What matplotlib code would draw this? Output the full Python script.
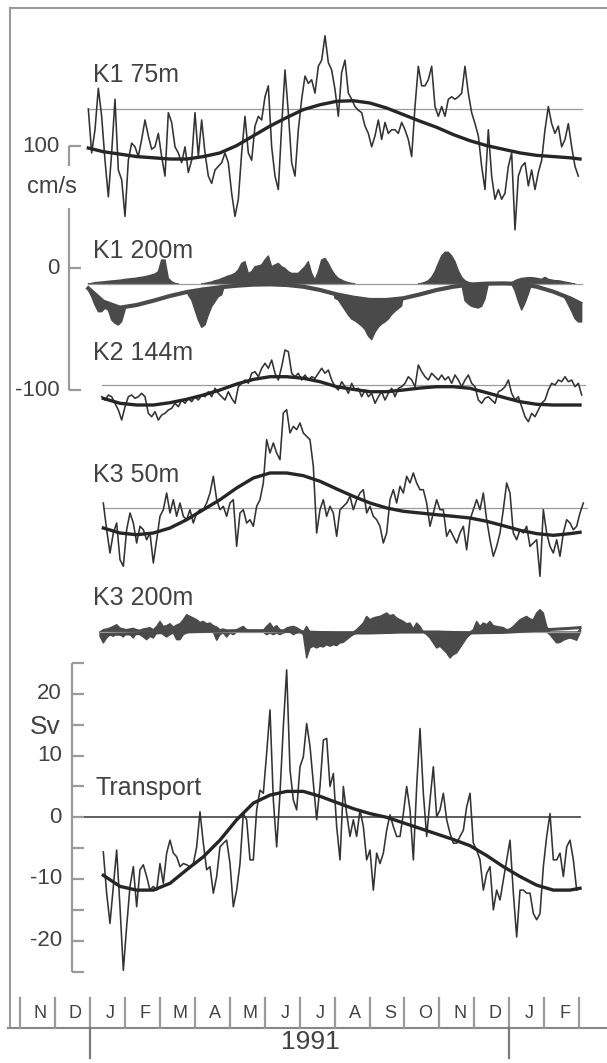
import numpy as np
import matplotlib.pyplot as plt

plt.rcParams['font.family'] = ['Liberation Sans', 'DejaVu Sans']

# ── DATA (time in months since 1 Nov 1990, currents in cm/s, transport in Sv) ──

MONTH_LABELS = ["N", "D", "J", "F", "M", "A", "M", "J", "J", "A", "S", "O", "N", "D", "J", "F"]
YEAR_LABEL = "1991"

# sample times of the fitted (smooth) curves
FIT_T = [1.955, 2.384, 2.861, 3.338, 3.815, 4.292, 4.769, 5.246, 5.722, 6.199,
         6.676, 7.153, 7.630, 8.107, 8.584, 9.060, 9.537, 10.014, 10.491, 10.968,
         11.445, 11.922, 12.399, 12.875, 13.352, 13.829, 14.306, 14.783, 15.260,
         15.737, 16.023]

nan = np.nan

# K1 75m: deviation from reference line
K1_75_SPAN = (1.955, 15.975)
K1_75 = [0, -36, -17, 17, -6, -42, -72, -36, 8, -50, -58, -88, -42, -28, -31, -39,
         -25, -9, -22, -33, -31, -20, -39, -55, -3, -11, -31, -36, -44, -31, -52, -42,
         -3, -39, -9, -36, -55, -61, -50, -47, -44, -36, -44, -69, -88, -74, -36, -6,
         -36, -42, -14, -6, -9, 10, 19, -31, -55, -66, -14, 32, -3, -44, -55, -17, 8,
         27, 21, 24, 13, 35, 40, 60, 38, 32, 16, -6, 30, 40, 13, 8, 2, -1, -3, -14,
         -20, -31, -22, -9, -25, -11, -20, -17, -17, -20, -11, -17, -25, -39, 2, 35,
         19, 19, 24, 35, 2, -6, 2, -6, 8, 10, 8, 10, 13, 35, 13, -3, -12, -22, -47,
         -66, -17, -55, -74, -66, -74, -69, -47, -36, -99, -55, -47, -44, -63, -50,
         -66, -52, -42, -17, 2, -12, -20, -14, -31, -25, -12, -31, -47, -55]
K1_75_FIT = [-32, -35, -37, -39, -40, -41, -41, -39, -36, -30, -22, -14, -7, -0.5,
             3.5, 6.3, 6.8, 4.9, 0.8, -4.6, -10, -15, -21, -26, -30, -33, -36, -38,
             -39, -40, -41]

# K1 200m: upper and lower excursions of the record
K1_200_SPAN = (1.955, 16.071)
K1_200_HI = [0, 0.5, 1.1, 1.4, 1.6, 1.9, 2.2, 2.5, 2.7, 3.0, 3.3, 3.8, 4.1, 4.4, 4.6,
             5.2, 5.5, 6.0, 6.6, 7.4, 8.2, 10.1, 19.7, 19.7, 4.6, 1.9, 0.5,
             0, 0, 0, 0, 0, 0, 0, 0,
             0.5, 1.1, 1.6, 2.7, 3.3, 4.4, 5.5, 6.6, 7.4, 8.7, 11.5, 16.9, 18.3, 8.7,
             10.1, 14.2, 14.8, 15.6, 19.7, 23.0, 14.2, 15.6, 16.9, 14.2, 12.8, 10.1,
             8.7, 8.7, 8.7, 11.5, 14.2, 18.3, 8.7, 3.3, 10.1, 19.7, 21.0, 16.9, 11.5,
             7.4, 4.6, 3.3, 1.9, 1.1, 0.5,
             0, 0, 0, 0, 0, 0, 0, 0, 0, 0, 0, 0, 0, 0, 0, 0, 0, 0, 0, 0,
             0.5, 1.4, 2.7, 5.5, 10.1, 16.9, 23.0, 26.0, 26.0, 23.0, 18.3, 10.9, 5.5,
             2.7, 1.4, 0.5,
             0, 0, 0, 0, 0, 0, 0, 0, 0, 0, 0,
             1.1, 2.7, 3.8, 4.6, 4.9, 5.2, 5.2, 4.9, 4.4, 3.8, 5.5, 3.8, 3.3, 2.7, 2.7,
             2.2, 1.6, 1.1, 0.5,
             0, 0, 0]
K1_200_LO = [-4.9, -10.4, -17.2, -22.7, -22.7, -19.9, -21.3, -29.5, -32.2, -33.6,
             -30.9, -21.3,
             0, 0, 0, 0, 0, 0, 0, 0, 0, 0, 0, 0, 0, 0, 0, 0, 0, 0,
             -9.0, -13.1, -21.3, -29.5, -35.5, -33.6, -25.4, -18.6, -14.5, -10.4, -9.0,
             0, 0, 0, 0, 0, 0, 0, 0, 0, 0, 0, 0, 0, 0, 0, 0, 0, 0, 0, 0, 0, 0, 0, 0,
             0, 0, 0, 0, 0, 0, 0, 0, 0,
             -11.7, -13.1, -17.2, -21.3, -25.4, -28.7, -30.1, -32.2, -34.4, -37.2,
             -42.6, -45.6, -39.6, -35.5, -32.8, -31.1, -28.7, -25.1, -22.4, -20.2, -18.0,
             0, 0, 0, 0, 0, 0, 0, 0, 0, 0, 0, 0, 0, 0, 0, 0, 0, 0,
             -13.7, -16.4, -18.3, -19.1, -19.7, -18.3, -12.3,
             0, 0, 0, 0, 0, 0, 0, 0,
             -5.5, -14.2, -21.3, -15.6, -8.2,
             0, 0, 0, 0, 0, 0, 0, 0, 0,
             -7.7, -11.7, -16.9, -22.4, -28.4, -31.1, -31.1]
K1_200_FIT = [-3.6, -14.5, -19.4, -17.2, -13.7, -9.8, -6.6, -4.4, -2.7, -1.4, -0.5,
              -0.3, -0.8, -2.2, -4.9, -8.5, -11.2, -13.1, -13.1, -11.7, -8.5, -4.9,
              -2.2, -0.5, 0.3, 0.5, 0, -2.2, -6.3, -11.7, -15.8]

# K2 144m
K2_SPAN = (2.337, 16.071)
K2 = [-9.6, -12.3, -8.2, -9.6, -15.0, -20.5, -28.7, -17.8, -9.6, -8.2, -10.9, -9.6,
      -6.8, -9.6, -23.2, -26.0, -21.9, -28.7, -24.6, -23.2, -20.5, -19.1, -15.0,
      -17.8, -12.3, -15.0, -10.9, -13.7, -9.6, -12.3, -8.2, -9.6, -5.5, -9.6, -2.7,
      -6.8, -9.6, -12.3, -5.5, -10.9, -15.0, -1.4, 1.4, 4.1, 1.4, 9.6, 10.9, 6.8,
      13.7, 17.8, 13.7, 20.5, 9.6, 4.1, 15.0, 28.7, 27.3, 9.6, 6.8, 9.6, 4.1, 8.2,
      4.1, 6.8, 5.5, 9.6, 13.7, 9.6, 12.3, 4.1, -1.4, -4.1, 2.7, -1.4, -6.8, 1.4,
      -4.1, -2.7, -9.6, -4.1, -9.6, -6.8, -15.0, -9.6, -5.5, -12.3, -6.8, -2.7, -9.6,
      -2.7, -1.4, 1.4, 6.8, 4.1, -1.4, 16.4, 10.9, 6.8, 4.1, 9.6, 6.8, 4.1, 8.2, 4.1,
      6.8, 1.4, 8.2, 4.1, -1.4, 4.1, 8.2, 1.4, -1.4, -12.3, -15.0, -10.9, -9.6,
      -12.3, -15.0, -5.5, -4.1, -1.4, 4.1, -6.8, -12.3, -9.6, -17.8, -26.0, -30.1,
      -23.2, -26.0, -20.5, -15.0, -12.3, -4.1, 1.4, 0, 4.1, 2.7, 6.8, 2.7, 4.1, -1.4,
      1.4, -8.2]
K2_FIT = [nan, -11, -15, -16.4, -16.4, -14.5, -11.7, -8.2, -4.1, 0.8, 4.6, 6.8, 6.8,
          5.5, 2.7, -1.4, -3.6, -5.5, -5.5, -4.1, -2.5, -1.4, -1.4, -2.7, -6.3, -10.1,
          -13.7, -15.8, -16.4, -16.4, -16.4]

# K3 50m
K3_50_SPAN = (2.384, 16.118)
K3_50 = [4.1, -17.8, -36.9, -20.5, -12.3, -42.3, -47.8, -17.8, -4.1, -12.3, -28.7,
         -15.0, -17.8, -26.0, -20.5, -45.1, -26.0, -6.8, -1.4, 12.3, -4.1, 6.8, -6.8,
         4.1, -6.8, -9.6, -1.4, -12.3, -4.1, -1.4, -1.4, 4.1, 12.3, 26.0, 6.8, -1.4,
         1.4, -6.8, 4.1, 6.8, -31.4, -4.1, -1.4, -12.3, -9.6, -15.0, 1.4, 6.8, 20.5,
         56.0, 45.1, 53.3, 45.1, 39.6, 77.9, 80.6, 61.5, 66.9, 64.2, 69.7, 61.5, 58.7,
         56.0, 34.2, -20.5, -1.4, 6.8, -6.8, 1.4, -4.1, -23.2, -1.4, 1.4, 4.1, 9.6,
         -1.4, 6.8, 12.3, 15.0, -4.1, 1.4, -6.8, -9.6, -15.0, -28.7, -20.5, 6.8, 15.0,
         4.1, 17.8, 12.3, 26.0, 20.5, 28.7, 20.5, 15.0, 15.0, 4.1, -15.0, -4.1, 6.8,
         -1.4, -1.4, -23.2, -17.8, -23.2, -28.7, -20.5, -15.0, -34.2, -9.6, -1.4, 6.8,
         -1.4, 12.3, -9.6, -26.0, -39.6, -31.4, -20.5, -1.4, 20.5, 12.3, -20.5, -26.0,
         -17.8, -20.5, -15.0, -31.4, -28.7, -26.0, -56.0, -1.4, -20.5, -31.4, -36.9,
         -26.0, -39.6, -20.5, -9.6, -12.3, -17.8, -15.0, -4.1, 4.1]
K3_50_FIT = [nan, -16.4, -20.5, -21.9, -20.5, -16.4, -9.6, -1.4, 6.8, 16.4, 24.6, 28.7,
             28.7, 26.5, 21.9, 15.6, 9.6, 4.1, 0, -2.7, -4.1, -5.5, -6.8, -8.2, -10.9,
             -14.5, -18.3, -21.0, -22.4, -21.0, -19.9]

# K3 200m: upper and lower excursions of the record
K3_200_SPAN = (2.289, 16.023)
K3_200_HI = [0, 1.9, 2.5, 3.3, 4.6, 6.0, 3.3, 2.5, 1.9, 2.5, 3.0, 1.9, 1.4, 2.5, 3.0,
             3.6, 1.9, 4.6, 8.7, 4.6, 5.2, 6.8, 4.1, 5.7, 6.8, 10.1, 14.2, 12.8, 11.5,
             10.1, 7.9, 8.7, 6.8, 7.4, 5.2, 4.1, 1.9, 2.5, 1.4, 0, 0, 1.9, 3.3, 4.6,
             1.9, 0, 0, 0, 0, 1.4, 4.6, 7.4, 3.3, 5.2, 1.9, 1.4, 3.3, 4.1, 4.6, 3.6,
             1.9, 0, 4.6, 0,
             0, 0, 0, 0, 0, 0, 0, 0, 0, 0, 0, 0, 0,
             1.9, 4.6, 7.4, 12.8, 10.1, 11.5, 12.3, 12.8, 14.2, 15.6, 13.4, 14.2, 11.5,
             10.1, 8.7, 6.8, 7.4, 2.5, 7.4, 4.6, 0,
             0, 0, 0, 0, 0, 0, 0, 0, 0, 0, 0, 0, 0, 0,
             1.9, 8.7, 4.6, 7.4, 6.0, 8.7, 5.2, 4.6, 4.1, 3.6, 1.9, 2.5, 4.6, 7.4, 10.1,
             11.5, 12.8, 10.7, 10.1, 15.6, 18.3, 15.6, 4.6,
             0, 0, 0, 0, 0, 0, 0, 0, 0, 3.3]
K3_200_LO = [-3.6, -9.0, -4.9, -2.2, -3.6, -0.8, -2.2, -4.1, -0.8, -2.2, -4.9, -0.8,
             -2.2, -4.1, -6.3, -3.6, -4.9, -0.8, 0, -2.2, -4.1, -2.2, -0.8, -6.3, -6.3,
             -2.2, -0.8,
             0, 0, 0, 0, 0, 0, 0, 0,
             -6.8, -2.2, -0.8, -4.1, -0.8, -2.2, 0,
             0, 0, 0, 0, 0, 0, 0, 0,
             -2.2, -0.8, -2.2, -0.8, -2.2, -0.8, 0, 0, -2.2, -0.8, 0, -2.2, -21.3,
             -13.1, -11.7, -13.1, -11.7, -12.3, -10.4, -11.7, -10.4, -11.2, -9.0, -8.5,
             -6.3, -4.1, -2.2, -0.8,
             0, 0, 0, 0, 0, 0, 0, 0, 0, 0, 0, 0, 0, 0, 0, 0, 0, 0, 0, 0,
             -2.2, -4.9, -9.0, -13.1, -11.7, -14.5, -17.2, -21.3, -18.6, -17.2, -13.1,
             -9.0, -4.9, -2.2,
             0, 0, 0, 0, 0, 0, 0, 0, 0, 0, 0, 0, 0, 0, 0, 0, 0, 0, 0, 0, 0, 0, 0,
             -2.2, -5.7, -9.0, -8.5, -6.8, -5.7, -4.9, -5.7, -6.8, -0.8]
K3_200_FIT = [nan, -2.2, -1.8, -1.4, -0.8, -0.3, 0.1, 0.5, 0.8, 1.1, 1.1, 1.1, 0.5, 0,
              -0.4, -0.8, -0.8, -0.8, -0.4, 0, 0, 0, -0.4, -0.8, -0.5, -0.3, 0.5, 1.4,
              2.2, 3.0, 3.6]

# Transport (Sv)
TRANSPORT_SPAN = (2.384, 15.928)
TRANSPORT = [-5.6, -12.3, -17.2, -11.2, -5.3, -14.5, -24.8, -17.7, -11.2, -8.0, -14.5,
             -8.5, -7.7, -9.6, -11.8, -11.2, -11.8, -7.5, -10.7, -5.8, -3.7, -5.8, -6.4,
             -8.0, -7.5, -7.7, -8.0, -7.5, -4.8, 0.9, -4.2, -8.5, -8.0, -12.3, -9.6,
             -4.8, -4.2, -3.7, -7.5, -14.5, -11.8, -7.5, 0.6, -0.4, -6.9, -6.9, 1.2, 4.4,
             3.9, 10.4, 17.4, 2.8, -4.8, 3.9, 14.7, 23.9, 7.7, 2.8, 1.2, 8.2, 9.8, 15.2,
             11.5, 5.5, -0.4, 5.0, 12.5, 12.8, 5.0, 7.1, -1.5, -6.9, 5.0, 0.6, -3.1,
             -0.4, -3.1, 1.2, -1.5, -6.9, -5.3, -11.8, -5.8, -7.5, -5.8, -2.1, 0.4, -1.5,
             -3.1, -3.1, 0.6, 5.0, 1.2, -6.9, 5.0, 14.4, 3.9, -3.1, 2.8, 8.2, 0.1, 1.2,
             3.9, -0.4, -2.6, -4.2, -4.2, -3.1, -2.1, 1.7, 3.9, -4.2, -5.3, -6.9, -11.8,
             -9.1, -8.0, -15.0, -11.8, -13.4, -10.2, -6.9, -3.7, -12.3, -19.4, -11.8,
             -11.8, -12.3, -12.3, -15.6, -16.6, -15.6, -8.0, -3.1, 0.6, -6.9, -6.9, -5.8,
             -9.6, -4.8, -3.7, -6.9, -11.8]
TRANSPORT_FIT = [nan, -9.4, -11.2, -11.8, -11.8, -10.7, -8.5, -6.4, -3.7, -0.4, 2.3,
                 3.6, 4.2, 4.2, 3.4, 2.4, 1.4, 0.6, 0, -0.9, -1.8, -2.7, -3.6, -4.6,
                 -6.2, -8.0, -9.6, -11.0, -11.8, -11.8, -11.5]

# ── LAYOUT ────────────────────────────────────────

W, H = 607, 1063
INK = "#333333"
TEXT = "#424242"
GREY = "#9a9a9a"
FILL = "#4a4a4a"


def mx(px):
    # pixel column -> months
    return (px - 20) / 34.95


def cur(py):
    # pixel row -> cm/s on the velocity scale bar
    return (268 - py) / 1.22


def sv(py):
    # pixel row -> Sv on the transport axis
    return (817.3 - py) / 6.17


fig = plt.figure(figsize=(W / 100, H / 100), dpi=100, facecolor="white")

ax = fig.add_axes([0, 0, 1, 1])   # currents, cm/s
at = fig.add_axes([0, 0, 1, 1])   # transport, Sv
ad = fig.add_axes([0, 0, 1, 1])   # frame and labels, pixel rows
for a in (ax, at, ad):
    a.set_xlim(mx(0), mx(W))
    a.axis("off")
ax.set_ylim(cur(H), cur(0))
at.set_ylim(sv(H), sv(0))
ad.set_ylim(H, 0)

fit_t = np.array(FIT_T)


def line_panel(span, vals, fit, row, label, label_row):
    off = cur(row)
    t = np.linspace(span[0], span[1], len(vals))
    ax.plot([t[0], t[-1] + 0.1], [off, off], color=GREY, lw=0.9)
    ax.plot(t, np.array(vals) + off, color=INK, lw=1.15)
    ax.plot(fit_t, np.array(fit) + off, color="#262626", lw=2.4)
    ad.text(mx(93), label_row, label, ha="left", va="center", fontsize=18, color=TEXT)


def fill_panel(span, hi, lo, fit, row, label, label_row, against_fit, fit_lw):
    off = cur(row)
    t = np.linspace(span[0], span[1], len(hi))
    hi = np.array(hi)
    lo = np.array(lo)
    fit = np.array(fit)
    ok = ~np.isnan(fit)
    ref = np.interp(t, fit_t[ok], fit[ok]) if against_fit else np.zeros_like(t)
    ax.plot([t[0], t[-1]], [off, off], color=GREY, lw=0.9)
    ax.fill_between(t, off, off + hi, where=hi > 0, interpolate=True,
                    facecolor=FILL, edgecolor=FILL, lw=1.0)
    ax.fill_between(t, off + lo, off + ref, where=lo < ref - 0.6, interpolate=True,
                    facecolor=FILL, edgecolor=FILL, lw=1.0)
    ax.plot(fit_t, fit + off, color=FILL, lw=fit_lw)
    ad.text(mx(93), label_row, label, ha="left", va="center", fontsize=18, color=TEXT)


line_panel(K1_75_SPAN, K1_75, K1_75_FIT, 109, "K1 75m", 75)
fill_panel(K1_200_SPAN, K1_200_HI, K1_200_LO, K1_200_FIT, 284, "K1 200m", 251, True, 3.0)
line_panel(K2_SPAN, K2, K2_FIT, 385, "K2 144m", 353)
line_panel(K3_50_SPAN, K3_50, K3_50_FIT, 508, "K3 50m", 475)
fill_panel(K3_200_SPAN, K3_200_HI, K3_200_LO, K3_200_FIT, 632, "K3 200m", 598, False, 2.2)

# velocity scale bar
sx = mx(69)
ax.plot([sx, sx], [100, -100], color=GREY, lw=1.6, solid_capstyle="butt")
for v in (100, 0, -100):
    ax.plot([sx, mx(81)], [v, v], color=GREY, lw=1.6, solid_capstyle="butt")
    ax.text(mx(60), v, str(v), ha="right", va="center", fontsize=16, color=TEXT)
ad.text(mx(52), 187, "cm/s", ha="center", va="center", fontsize=17, color=TEXT,
        bbox=dict(facecolor="white", edgecolor="none", pad=7))

# transport
tt = np.linspace(TRANSPORT_SPAN[0], TRANSPORT_SPAN[1], len(TRANSPORT))
at.plot([mx(72), mx(580)], [0, 0], color="#505050", lw=1.3)
at.plot(tt, TRANSPORT, color=INK, lw=1.15)
at.plot(fit_t, TRANSPORT_FIT, color="#262626", lw=2.4)
tx = mx(72)
at.plot([tx, tx], [25, -25], color=GREY, lw=1.6, solid_capstyle="butt")
for v in range(-25, 26, 5):
    at.plot([tx, mx(84)], [v, v], color=GREY, lw=1.6, solid_capstyle="butt")
for v in (20, 10, 0, -10, -20):
    at.text(mx(62), v, str(v), ha="right", va="center", fontsize=16, color=TEXT)
ad.text(mx(45), 727, "Sv", ha="center", va="center", fontsize=19, color=TEXT)
ad.text(mx(95), 788, "Transport", ha="left", va="center", fontsize=18, color=TEXT)

# frame
ad.plot([mx(10), mx(10)], [8, 1028], color=GREY, lw=1.5)
ad.plot([mx(10), mx(W)], [8, 8], color=GREY, lw=1.5)
ad.plot([mx(8), mx(W)], [1028, 1028], color="#888888", lw=1.5)

# month axis
for m in range(len(MONTH_LABELS) + 1):
    ad.plot([m, m], [998, 1028], color=GREY, lw=1.6)
for m in (2, 14):
    ad.plot([m, m], [1028, 1058], color="#7a7a7a", lw=1.6)
for i, lab in enumerate(MONTH_LABELS):
    ad.text(i + 0.58, 1013, lab, ha="center", va="center", fontsize=13, color=TEXT)
ad.text(mx(310), 1042, YEAR_LABEL, ha="center", va="center", fontsize=19, color=TEXT)

fig.savefig("out.png", dpi=100, facecolor="white")
